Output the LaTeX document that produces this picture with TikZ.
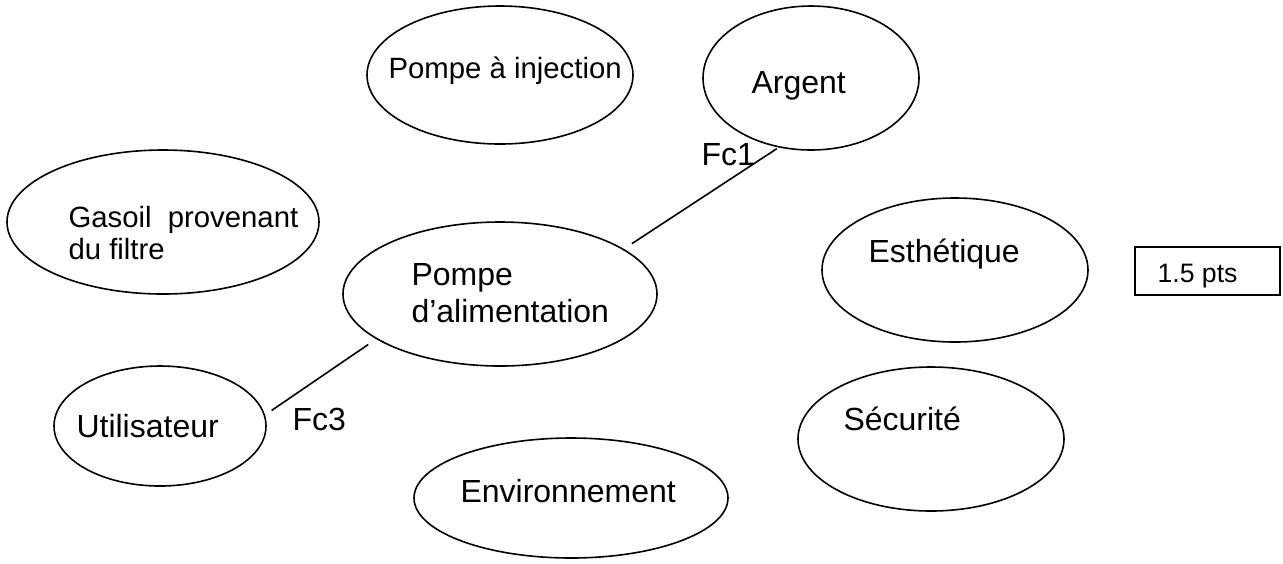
\documentclass[tikz,border=0pt]{standalone}
\usepackage{fontspec}
\setmainfont{Liberation Sans}
\usetikzlibrary{shapes.geometric}
\begin{document}
\begin{tikzpicture}[x=0.375pt,y=-0.375pt,
  oval/.style args={#1/#2}{ellipse, draw, line width=0.6pt, inner sep=0pt,
    minimum width=#1*0.75pt, minimum height=#2*0.75pt},
  boxed/.style={draw, line width=0.6pt, inner sep=0pt,
    minimum width=145*0.375pt, minimum height=48*0.375pt},
  lbl/.style={anchor=base west, inner sep=0pt, font=\fontsize{12}{14}\selectfont},
  lbls/.style={anchor=base west, inner sep=0pt, font=\fontsize{11}{13}\selectfont},
  lblxs/.style={anchor=base west, inner sep=0pt, font=\fontsize{10}{12}\selectfont},
  conn/.style={line width=0.6pt}]
\useasboundingbox (0,0) rectangle (1283,563);

% ellipses
\node[oval=133/69] (inj)   at (500,75)  {};
\node[oval=108/72] (arg)   at (811,78)  {};
\node[oval=156/72] (gas)   at (163,222) {};
\node[oval=157/72] (palim) at (500,294) {};
\node[oval=133/72] (esth)  at (955,270) {};
\node[oval=106/60] (util)  at (160,426) {};
\node[oval=133/72] (secu)  at (931,439) {};
\node[oval=157/60] (env)   at (571,498) {};
\node[boxed] (box) at (1207.5,271) {};

% texts
\node[lbls] (t-inj)    at (388,78)  {Pompe à injection};
\node[lbl]  (t-arg)    at (751,93)  {Argent};
\node[lbls] (t-gas1)   at (68,227)  {Gasoil\hspace{0.55em}provenant};
\node[lbls] (t-gas2)   at (68,259)  {du filtre};
\node[lbl]  (t-palim1) at (411,285) {Pompe};
\node[lbl]  (t-palim2) at (411,322) {d’alimentation};
\node[lbl]  (t-util)   at (76,437)  {Utilisateur};
\node[lbl]  (t-env)    at (460,502) {Environnement};
\node[lbl]  (t-esth)   at (868,262) {Esthétique};
\node[lbl]  (t-secu)   at (843,430) {Sécurité};
\node[lblxs] (t-box)   at (1157,282) {1.5 pts};

% connectors
\draw[conn, shorten <=3.6pt, shorten >=0.8pt] (palim.20) -- (arg.245);
\draw[conn, shorten <=3pt, shorten >=3.6pt] (util.6) -- (palim.200);
\node[lbl] (fc1) at (701,165) {Fc1};
\node[lbl] (fc3) at (292,430) {Fc3};
\end{tikzpicture}
\end{document}
